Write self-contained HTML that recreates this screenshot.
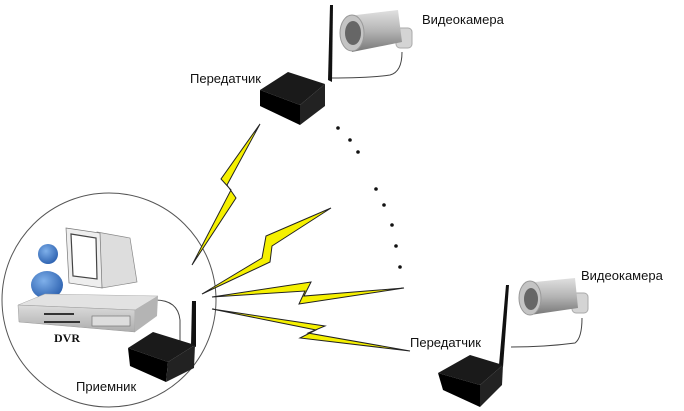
<!DOCTYPE html>
<html><head><meta charset="utf-8"><style>
body{margin:0;background:#fff;}
svg{display:block;}
text{font-family:"Liberation Sans",sans-serif;}
</style></head><body>
<svg width="684" height="411" viewBox="0 0 684 411" xmlns="http://www.w3.org/2000/svg">
<defs>
<linearGradient id="cam" x1="0" y1="0" x2="0" y2="1"><stop offset="0" stop-color="#e0e0e0"/><stop offset="0.5" stop-color="#b4b4b4"/><stop offset="1" stop-color="#777"/></linearGradient>
<linearGradient id="dvr" x1="0" y1="0" x2="0" y2="1"><stop offset="0" stop-color="#dcdcdc"/><stop offset="1" stop-color="#adadad"/></linearGradient>
<radialGradient id="per" cx="0.4" cy="0.35" r="0.7"><stop offset="0" stop-color="#7fb0ea"/><stop offset="1" stop-color="#2a5fae"/></radialGradient>
</defs>
<circle cx="109" cy="300" r="107" fill="none" stroke="#555" stroke-width="1"/>
<g fill="#111"><circle cx="338" cy="128" r="1.8"/><circle cx="350" cy="140" r="1.8"/><circle cx="358" cy="152" r="1.8"/><circle cx="376" cy="189" r="1.8"/><circle cx="384" cy="205" r="1.8"/><circle cx="392" cy="225" r="1.8"/><circle cx="396" cy="246" r="1.8"/><circle cx="400" cy="267" r="1.8"/></g>
<g fill="#f5f000" stroke="#222" stroke-width="1" stroke-linejoin="miter">
<polygon points="260,124 221,179 231,190 192,265 236,198 227,185"/>
<polygon points="331,208 266,236 262,258 202,294 270,262 272,246"/>
<polygon points="212,297 311,282 304,296 404,288 299,304 305,291"/>
<polygon points="212,309 325,326 308,333 410,351 300,338 316,330"/>
</g>
<path d="M155,300 Q178,300 180,320 L180,345" fill="none" stroke="#444" stroke-width="1"/>
<path d="M330,78 Q370,78 390,75 Q402,72 402,52" fill="none" stroke="#444" stroke-width="1"/>
<path d="M511,347 Q545,347 575,343 Q582,338 582,318" fill="none" stroke="#444" stroke-width="1"/>
<polygon points="328,80 330,5 333,5 332,82" fill="#111"/>
<polygon points="260,90 288,72 325,84 300,105" fill="#1a1a1a"/>
<polygon points="260,90 300,105 300,125 260,106" fill="#000"/>
<polygon points="300,105 325,84 325,106 300,125" fill="#222"/>
<polygon points="499,365 506,285 509,285 503,367" fill="#111"/>
<polygon points="438,373 470,355 503,365 480,385" fill="#1a1a1a"/>
<polygon points="438,373 480,385 480,407 443,390" fill="#000"/>
<polygon points="480,385 503,365 502,385 480,407" fill="#222"/>
<polygon points="191,345 192,301 196,301 196,347" fill="#111"/>
<polygon points="128,348 153,332 195,345 168,362" fill="#1a1a1a"/>
<polygon points="128,348 168,362 166,382 130,366" fill="#000"/>
<polygon points="168,362 195,345 194,368 166,382" fill="#222"/>
<g>
<rect x="396" y="28" width="16" height="20" rx="4" fill="#d4d4d4" stroke="#aaa"/>
<path d="M348,16 L398,10 L402,42 L352,52 Z" fill="url(#cam)"/>
<ellipse cx="352" cy="33" rx="12" ry="18" fill="#c4c4c4" stroke="#999"/>
<ellipse cx="353" cy="33" rx="8" ry="12" fill="#666"/>
</g>
<g>
<rect x="572" y="293" width="16" height="20" rx="4" fill="#d4d4d4" stroke="#aaa"/>
<path d="M525,283 L575,278 L578,308 L530,315 Z" fill="url(#cam)"/>
<ellipse cx="530" cy="298" rx="11" ry="17" fill="#c4c4c4" stroke="#999"/>
<ellipse cx="531" cy="299" rx="7" ry="11" fill="#666"/>
</g>
<polygon points="97,232 130,238 137,282 102,288" fill="#ddd" stroke="#888" stroke-width="0.7"/>
<polygon points="66,228 100,233 102,288 69,283" fill="#eee" stroke="#777" stroke-width="0.7"/>
<polygon points="71,234 96,238 97,279 73,276" fill="#fff" stroke="#444" stroke-width="1.2"/>
<ellipse cx="47" cy="285" rx="16" ry="14" fill="url(#per)"/>
<circle cx="48" cy="254" r="10" fill="url(#per)"/>
<polygon points="18,305 45,294 158,296 135,310" fill="#e2e2e2" stroke="#aaa" stroke-width="0.5"/>
<polygon points="18,305 135,310 135,332 19,322" fill="url(#dvr)" stroke="#999" stroke-width="0.5"/>
<polygon points="135,310 158,296 157,316 135,332" fill="#b4b4b4"/>
<g fill="#333"><rect x="44" y="313" width="30" height="2"/><rect x="44" y="321" width="36" height="2"/></g>
<rect x="92" y="316" width="38" height="10" fill="#ddd" stroke="#777" stroke-width="0.7"/>
<text x="422" y="24" font-size="13" fill="#111">Видеокамера</text>
<text x="190" y="83" font-size="13" fill="#111">Передатчик</text>
<text x="581" y="280" font-size="13" fill="#111">Видеокамера</text>
<text x="410" y="347" font-size="13" fill="#111">Передатчик</text>
<text x="76" y="391" font-size="13" fill="#111">Приемник</text>
<text x="54" y="342" font-size="12" font-weight="bold" fill="#111" style="font-family:'Liberation Serif',serif">DVR</text>
</svg>
</body></html>
